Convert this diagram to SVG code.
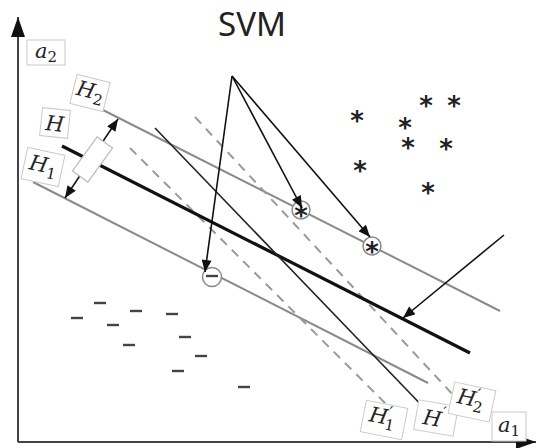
<svg xmlns="http://www.w3.org/2000/svg" width="536" height="448" viewBox="0 0 536 448">
<style>
.lbl rect{fill:#fff;stroke:#c9c9c9;stroke-width:1}
.lbl text{font-family:"DejaVu Serif","Liberation Serif",serif;font-style:italic;font-size:21px;fill:#222}
.sub{font-style:normal;font-size:15px}
.gl{stroke:#8a8a8a;stroke-width:2;fill:none}
.dl{stroke:#9a9a9a;stroke-width:2;stroke-dasharray:9 7;fill:none}
.ar{stroke:#111;stroke-width:1.6;fill:none;marker-end:url(#ah)}
.ast{font-family:"DejaVu Sans",sans-serif;font-size:26px;font-weight:bold;fill:#222;text-anchor:middle}
.mn{stroke:#444;stroke-width:2.4}
.sv{fill:#fff;stroke:#8a8a8a;stroke-width:1.5}
</style>
<defs>
<marker id="ah" viewBox="0 0 12 10" refX="12" refY="5" markerWidth="13" markerHeight="10" markerUnits="userSpaceOnUse" orient="auto-start-reverse"><path d="M0,0 L12,5 L0,10 z" fill="#111"/></marker>
<marker id="ax" viewBox="0 0 20 14" refX="20" refY="7" markerWidth="20" markerHeight="14" markerUnits="userSpaceOnUse" orient="auto"><path d="M0,0 L20,7 L0,14 z" fill="#111"/></marker>
<line id="m" x1="-6" y1="0" x2="6" y2="0" class="mn"/>
</defs>
<rect width="536" height="448" fill="#fff"/>
<text x="252" y="36" font-family="Noto Sans, sans-serif" font-size="33" fill="#222" text-anchor="middle">SVM</text>
<g id="axes">
<line x1="18" y1="442" x2="18" y2="17" stroke="#444" stroke-width="2" marker-end="url(#ax)"/>
<line x1="18" y1="442" x2="536" y2="442" stroke="#444" stroke-width="2" marker-end="url(#ax)"/>
</g>
<g id="connectors">
<line id="H2line" class="gl" x1="103" y1="110" x2="500" y2="311"/>
<line id="H1line" class="gl" x1="33" y1="182" x2="428" y2="383"/>
<line id="H2pline" class="dl" x1="195" y1="117" x2="455" y2="397"/>
<line id="H1pline" class="dl" x1="130" y1="148" x2="392" y2="410"/>
<line id="Hline" x1="62" y1="146" x2="470" y2="353" stroke="#111" stroke-width="3.2"/>
<line id="Hpline" x1="155" y1="128" x2="429" y2="413" stroke="#222" stroke-width="1.6"/>
<line id="margin" x1="91" y1="159" x2="118" y2="119" stroke="#111" stroke-width="1.5" marker-end="url(#ah)"/>
<line x1="91" y1="159" x2="65" y2="198" stroke="#111" stroke-width="1.5" marker-end="url(#ah)"/>
</g>
<g id="marginbox"><rect x="-21" y="-9.5" width="42" height="19" transform="translate(92.5,159.5) rotate(-54)" fill="#fff" stroke="#bbb" stroke-width="1.2"/></g>
<g id="sv1"><circle class="sv" cx="301" cy="210" r="9"/><text class="ast" x="301" y="225" font-size="22">*</text></g>
<g id="sv2"><circle class="sv" cx="372" cy="246" r="9"/><text class="ast" x="372" y="261" font-size="22">*</text></g>
<g id="sv3"><circle class="sv" cx="212" cy="277" r="9.5"/><use href="#m" x="212" y="276"/></g>
<g id="pos">
<text class="ast" x="357" y="130">*</text>
<text class="ast" x="426" y="115">*</text>
<text class="ast" x="454" y="115">*</text>
<text class="ast" x="405" y="137">*</text>
<text class="ast" x="408" y="157">*</text>
<text class="ast" x="446" y="158">*</text>
<text class="ast" x="360" y="180">*</text>
<text class="ast" x="428" y="202">*</text>
</g>
<g id="neg">
<use href="#m" x="100" y="303"/>
<use href="#m" x="77" y="318"/>
<use href="#m" x="136" y="311"/>
<use href="#m" x="113" y="325"/>
<use href="#m" x="172" y="314"/>
<use href="#m" x="129" y="345"/>
<use href="#m" x="185" y="337"/>
<use href="#m" x="201" y="356"/>
<use href="#m" x="178" y="371"/>
<use href="#m" x="244" y="387"/>
</g>
<g id="arrows">
<line class="ar" x1="232" y1="76" x2="302" y2="208"/>
<line class="ar" x1="232" y1="76" x2="370" y2="237"/>
<line class="ar" x1="232" y1="76" x2="205" y2="272"/>
<line class="ar" x1="504" y1="235" x2="403" y2="318"/>
</g>
<g id="a2" class="lbl"><rect x="27" y="40" width="38" height="25"/><text x="46" y="58" text-anchor="middle">a<tspan class="sub" dy="4">2</tspan></text></g>
<g id="H2" class="lbl" transform="translate(90,93) rotate(14)"><rect x="-17" y="-15" width="34" height="30"/><text x="0" y="5" text-anchor="middle">H<tspan class="sub" dy="5">2</tspan></text></g>
<g id="H" class="lbl" transform="translate(55,123) rotate(6)"><rect x="-14" y="-14" width="28" height="28"/><text x="0" y="8" text-anchor="middle">H</text></g>
<g id="H1" class="lbl" transform="translate(43,167) rotate(12)"><rect x="-19" y="-16" width="38" height="32"/><text x="0" y="5" text-anchor="middle">H<tspan class="sub" dy="5">1</tspan></text></g>
<g id="H1p" class="lbl" transform="translate(384,420) rotate(11)"><rect x="-21" y="-16" width="42" height="32"/><text x="-2" y="4" text-anchor="middle">H<tspan class="sub" dy="-8">′</tspan><tspan class="sub" dx="-5" dy="13">1</tspan></text></g>
<g id="Hp" class="lbl" transform="translate(436,418) rotate(10)"><rect x="-20" y="-15" width="40" height="30"/><text x="-2" y="8" text-anchor="middle">H<tspan class="sub" dy="-10">′</tspan></text></g>
<g id="H2p" class="lbl" transform="translate(472,402) rotate(12)"><rect x="-21" y="-16" width="42" height="32"/><text x="-2" y="4" text-anchor="middle">H<tspan class="sub" dy="-8">′</tspan><tspan class="sub" dx="-5" dy="13">2</tspan></text></g>
<g id="a1" class="lbl"><rect x="492" y="412" width="34" height="29"/><text x="509" y="432" text-anchor="middle">a<tspan class="sub" dy="4">1</tspan></text></g>
</svg>
